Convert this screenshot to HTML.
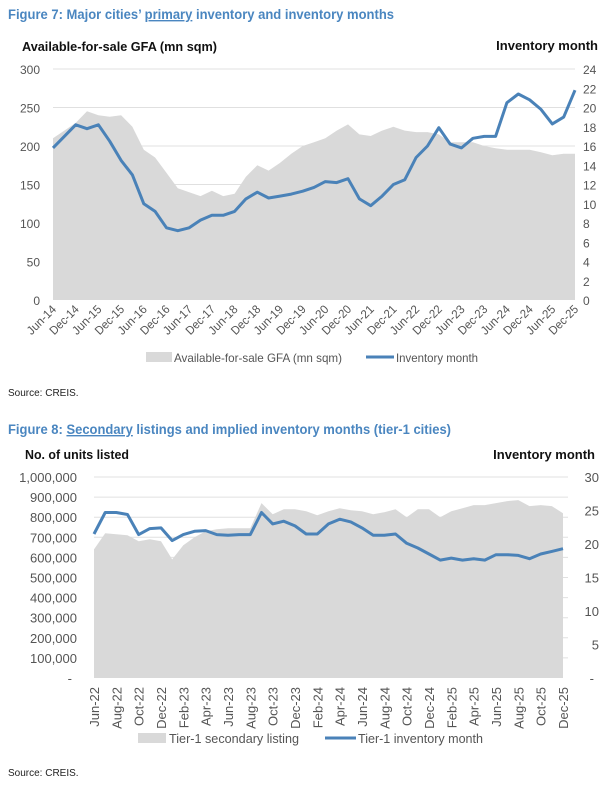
<!DOCTYPE html>
<html><head><meta charset="utf-8"><style>
body{margin:0;background:#fff;}
svg{display:block;font-family:"Liberation Sans Narrow","Liberation Sans",sans-serif;}
</style></head><body>
<svg id="s" width="607" height="789" viewBox="0 0 607 789">
<text x="8" y="19" font-size="14" font-weight="bold" fill="#4a86c0" textLength="386" lengthAdjust="spacingAndGlyphs">Figure 7: Major cities’ <tspan text-decoration="underline">primary</tspan> inventory and inventory months</text>
<text x="22" y="51" font-size="13" font-weight="bold" fill="#111" textLength="195" lengthAdjust="spacingAndGlyphs">Available-for-sale GFA (mn sqm)</text>
<text x="598" y="50" font-size="13" font-weight="bold" fill="#111" text-anchor="end">Inventory month</text>
<g id="c1"></g>
<rect x="146" y="352" width="26" height="10" fill="#d9d9d9"/>
<text x="174" y="362" font-size="12" fill="#555" textLength="168" lengthAdjust="spacingAndGlyphs">Available-for-sale GFA (mn sqm)</text>
<line x1="366" y1="357" x2="394" y2="357" stroke="#4a82b8" stroke-width="3"/>
<text x="396" y="362" font-size="12" fill="#555" textLength="82" lengthAdjust="spacingAndGlyphs">Inventory month</text>
<text x="8" y="396" font-size="10" fill="#222">Source: CREIS.</text>

<text x="8" y="434" font-size="14" font-weight="bold" fill="#4a86c0" textLength="443" lengthAdjust="spacingAndGlyphs">Figure 8: <tspan text-decoration="underline">Secondary</tspan> listings and implied inventory months (tier-1 cities)</text>
<text x="25" y="459" font-size="13" font-weight="bold" fill="#111" textLength="104" lengthAdjust="spacingAndGlyphs">No. of units listed</text>
<text x="595" y="459" font-size="13" font-weight="bold" fill="#111" text-anchor="end">Inventory month</text>
<g id="c2"></g>
<rect x="138" y="733" width="28" height="10" fill="#d9d9d9"/>
<text x="169" y="743" font-size="13" fill="#555" textLength="130" lengthAdjust="spacingAndGlyphs">Tier-1 secondary listing</text>
<line x1="325" y1="738" x2="356" y2="738" stroke="#4a82b8" stroke-width="3"/>
<text x="358" y="743" font-size="13" fill="#555" textLength="125" lengthAdjust="spacingAndGlyphs">Tier-1 inventory month</text>
<text x="8" y="776" font-size="10" fill="#222">Source: CREIS.</text>
</svg>
<script>
const c1Labels=["Jun-14","Dec-14","Jun-15","Dec-15","Jun-16","Dec-16","Jun-17","Dec-17","Jun-18","Dec-18","Jun-19","Dec-19","Jun-20","Dec-20","Jun-21","Dec-21","Jun-22","Dec-22","Jun-23","Dec-23","Jun-24","Dec-24","Jun-25","Dec-25"];
const c1Gfa=[210,220,230,245,240,238,240,225,195,185,165,145,140,135,142,135,138,160,175,168,178,190,200,205,210,220,228,215,213,220,225,220,218,218,215,205,205,205,200,197,195,195,195,192,188,190,190];
const c1Inv=[15.8,17,18.2,17.8,18.2,16.5,14.5,13,10,9.2,7.5,7.2,7.5,8.3,8.8,8.8,9.2,10.5,11.2,10.6,10.8,11,11.3,11.7,12.3,12.2,12.6,10.5,9.8,10.8,12,12.5,14.8,16,17.9,16.2,15.8,16.8,17,17,20.5,21.4,20.8,19.8,18.3,19,21.8];
const c1LeftTicks=[0,50,100,150,200,250,300];
const c1RightTicks=[0,2,4,6,8,10,12,14,16,18,20,22,24];

const c2Labels=["Jun-22","Aug-22","Oct-22","Dec-22","Feb-23","Apr-23","Jun-23","Aug-23","Oct-23","Dec-23","Feb-24","Apr-24","Jun-24","Aug-24","Oct-24","Dec-24","Feb-25","Apr-25","Jun-25","Aug-25","Oct-25","Dec-25"];
const c2Listing=[640,720,715,710,680,690,680,590,660,700,730,740,745,745,745,870,815,840,840,830,810,830,845,835,830,815,825,840,800,840,840,800,830,845,860,860,870,880,885,855,860,855,820];
const c2Inv=[21.5,24.7,24.7,24.4,21.4,22.3,22.4,20.5,21.4,21.9,22,21.4,21.3,21.4,21.4,24.7,23,23.4,22.7,21.5,21.5,23,23.7,23.3,22.4,21.3,21.3,21.5,20.1,19.4,18.5,17.6,17.9,17.6,17.8,17.6,18.4,18.4,18.3,17.8,18.5,18.9,19.3];
const c2LeftTicks=[0,100,200,300,400,500,600,700,800,900,1000];
const c2RightTicks=[0,5,10,15,20,25,30];

const NS="http://www.w3.org/2000/svg";
function mk(p,t,a){const e=document.createElementNS(NS,t);for(const k in a)e.setAttribute(k,a[k]);p.appendChild(e);return e;}

// Chart 1
(function(){
const g=document.getElementById('c1');
const L=53,R=575,T=69,B=300;
const x=i=>L+i*(R-L)/(c1Gfa.length-1);
const yl=v=>B-v/300*(B-T);
const yr=v=>B-v/24*(B-T);
c1LeftTicks.forEach(v=>{
 if(v>0){const gl=mk(g,'line',{x1:L,x2:R,y1:yl(v),y2:yl(v),stroke:'#e0e0e0','stroke-width':1});
 
 }
 const t=mk(g,'text',{x:L-13,y:yl(v)+5,'font-size':12,fill:'#555','text-anchor':'end'});t.textContent=v;
 
 
});
c1RightTicks.forEach(v=>{
 const t=mk(g,'text',{x:583,y:yr(v)+5,'font-size':12,fill:'#555'});t.textContent=v;
 
 
});
let d='M'+x(0)+','+B;c1Gfa.forEach((v,i)=>d+='L'+x(i).toFixed(1)+','+yl(v).toFixed(1));d+='L'+x(c1Gfa.length-1)+','+B+'Z';
const a=mk(g,'path',{d:d,fill:'#d9d9d9'});


let d2='';c1Inv.forEach((v,i)=>d2+=(i?'L':'M')+x(i).toFixed(1)+','+yr(v).toFixed(1));
const l=mk(g,'path',{d:d2,fill:'none',stroke:'#4a82b8','stroke-width':3,'stroke-linejoin':'round'});


c1Labels.forEach((s,i)=>{
 const xx=x(i*2);
 const t=mk(g,'text',{x:xx+4,y:B+10,'font-size':12,fill:'#555','text-anchor':'end',textLength:36,lengthAdjust:'spacingAndGlyphs',transform:`rotate(-45 ${xx+4} ${B+10})`});t.textContent=s;
 
 
});
})();

// Chart 2
(function(){
const g=document.getElementById('c2');
const L=94,R=563,T=477,B=678;
const x=i=>L+i*(R-L)/(c2Listing.length-1);
const yl=v=>B-v/1000*(B-T);
const yr=v=>B-v/30*(B-T);
c2LeftTicks.forEach(v=>{
 if(v>0){const gl=mk(g,'line',{x1:L,x2:R+5,y1:yl(v),y2:yl(v),stroke:'#e0e0e0','stroke-width':1});
 
 }
 const t=mk(g,'text',{x:v?77:72,y:yl(v)+5,'font-size':13,fill:'#555','text-anchor':'end'});
 t.textContent=v?(v===1000?'1,000,000':v+',000'):'-';
 
 
});
c2RightTicks.forEach(v=>{
 const t=mk(g,'text',{x:v?599:594,y:yr(v)+5,'font-size':13,fill:'#555','text-anchor':'end'});t.textContent=v?v:'-';
 
 
});
let d='M'+x(0)+','+B;c2Listing.forEach((v,i)=>d+='L'+x(i).toFixed(1)+','+yl(v).toFixed(1));d+='L'+x(c2Listing.length-1)+','+B+'Z';
const a=mk(g,'path',{d:d,fill:'#d9d9d9'});


let d2='';c2Inv.forEach((v,i)=>d2+=(i?'L':'M')+x(i).toFixed(1)+','+yr(v).toFixed(1));
const l=mk(g,'path',{d:d2,fill:'none',stroke:'#4a82b8','stroke-width':3,'stroke-linejoin':'round'});


c2Labels.forEach((s,i)=>{
 const xx=x(i*2)+5;
 const t=mk(g,'text',{x:xx,y:B+9,'font-size':13,fill:'#555','text-anchor':'end',transform:`rotate(-90 ${xx} ${B+9})`});t.textContent=s;
 
 
});
})();
</script>
</body></html>
